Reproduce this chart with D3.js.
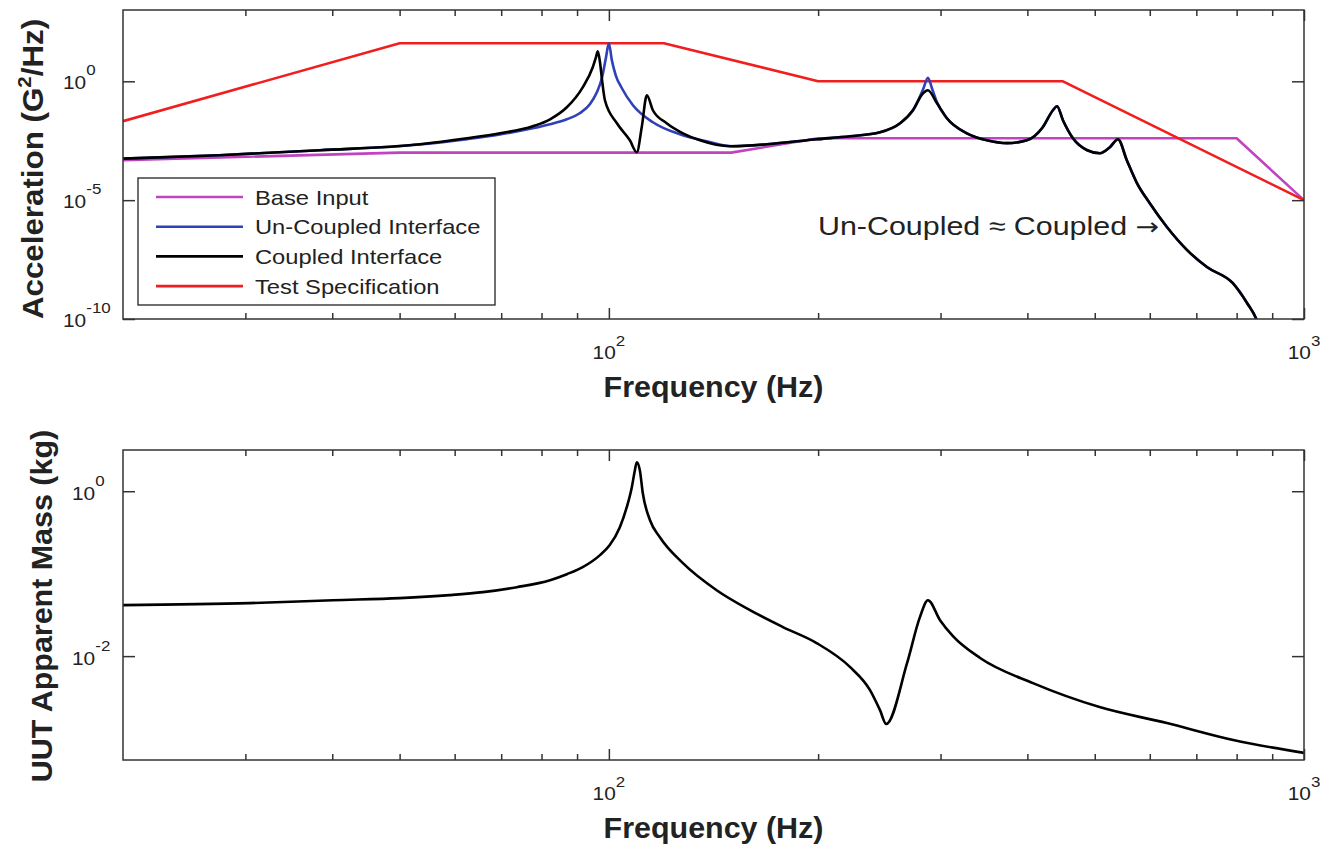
<!DOCTYPE html>
<html>
<head>
<meta charset="utf-8">
<script src="https://cdn.jsdelivr.net/npm/d3@7"></script>
<style>
  body { margin: 0; background: #fff; }
  text { font-family: "Liberation Sans", Arial, sans-serif; fill: #222; }
</style>
</head>
<body>
<svg id="chart" width="1338" height="851"></svg>
<script>
// ---- data (frequency in Hz) ----
var baseFreq = [20, 50, 150, 200, 800, 1000];
var baseVal  = [4.8e-4, 1e-3, 1e-3, 4e-3, 4e-3, 1e-5];

var specFreq = [20, 50, 120, 200, 450, 1000];
var specVal  = [0.021, 40, 40, 1, 1, 1e-5];

var coupledFreq = [20, 27.5, 38.4, 53.5, 62.5, 69.7, 77.7, 82.3, 87.0, 91.7, 94.8, 95.8, 96.4, 97.1, 97.7, 98.7, 102.7, 107.2, 109.7, 111.5, 113.4, 115.7, 121.1, 127.8, 135.2, 149.3, 168.8, 199.1, 222.3, 245.5, 262.4, 273.8, 283.1, 287.7, 296.5, 306.4, 327.3, 349.8, 374, 399.3, 420.9, 435.3, 441.3, 450, 465.2, 487.7, 508.6, 525.7, 540, 556, 575, 600, 635, 679, 725, 790, 828, 855, 870];
var coupledVal  = [5.6e-4, 7.8e-4, 1.26e-3, 2.25e-3, 4.0e-3, 6.5e-3, 0.0128, 0.0253, 0.081, 0.56, 3.9, 10.2, 18.2, 6.3, 1.34, 0.159, 0.0172, 3.3e-3, 1.04e-3, 0.0117, 0.258, 0.0605, 0.0172, 6.5e-3, 3.3e-3, 1.86e-3, 2.25e-3, 3.66e-3, 4.9e-3, 7.2e-3, 0.0172, 0.0605, 0.313, 0.419, 0.119, 0.0279, 6.5e-3, 3.3e-3, 2.5e-3, 3.3e-3, 0.0117, 0.0605, 0.089, 0.023, 4.0e-3, 1.26e-3, 9.4e-4, 1.69e-3, 3.66e-3, 4.8e-4, 5.2e-5, 7.4e-6, 7.4e-7, 7.9e-8, 1.53e-8, 3.2e-9, 4.7e-10, 9.1e-11, 2e-11];

var uncoupledFreq = [20, 27.5, 38.4, 53.5, 62.5, 69.7, 77.7, 82.3, 87.0, 90.8, 93.9, 96.1, 97.7, 99.0, 100, 101.0, 102.3, 104.4, 108.3, 115.7, 126.5, 138.3, 150.7, 168.8, 199.1, 222.3, 245.5, 262.4, 273.8, 283.1, 287.7, 292, 296.5, 306.4, 327.3, 349.8, 374, 399.3, 420.9, 435.3, 441.3, 450, 465.2, 487.7, 508.6, 525.7, 540, 556, 575, 600, 635, 679, 725, 790, 828, 855, 870];
var uncoupledVal  = [5.6e-4, 7.8e-4, 1.26e-3, 2.2e-3, 3.7e-3, 5.8e-3, 0.0105, 0.0156, 0.0253, 0.0452, 0.108, 0.345, 1.34, 9.25, 39.5, 7.6, 1.79, 0.51, 0.098, 0.019, 5.9e-3, 3.0e-3, 1.86e-3, 2.25e-3, 3.66e-3, 4.9e-3, 7.2e-3, 0.0172, 0.0605, 0.45, 1.4, 0.45, 0.13, 0.0279, 6.5e-3, 3.3e-3, 2.5e-3, 3.3e-3, 0.0117, 0.0605, 0.089, 0.023, 4.0e-3, 1.26e-3, 9.4e-4, 1.69e-3, 3.66e-3, 4.8e-4, 5.2e-5, 7.4e-6, 7.4e-7, 7.9e-8, 1.53e-8, 3.2e-9, 4.7e-10, 9.1e-11, 2e-11];

var massFreq = [20, 30.4, 40.1, 50, 59, 65.9, 73.7, 82.3, 87.0, 91.7, 97.1, 100.3, 103.7, 106.1, 107.9, 109.0, 109.7, 110.8, 111.9, 114.6, 118.4, 127.8, 142.9, 159.6, 178, 199, 222.2, 237.5, 245.5, 250.6, 268.5, 280.2, 287.7, 299.5, 312.6, 342, 407.5, 508, 635, 791, 1000];
var massVal  = [0.0415, 0.0439, 0.0477, 0.0505, 0.0549, 0.0597, 0.0686, 0.0834, 0.0986, 0.12, 0.168, 0.222, 0.366, 0.64, 1.12, 1.80, 2.25, 1.80, 0.946, 0.445, 0.277, 0.134, 0.063, 0.0361, 0.0225, 0.0144, 7.4e-3, 3.87e-3, 2.21e-3, 1.5e-3, 8.2e-3, 0.0297, 0.0477, 0.0273, 0.0175, 9.5e-3, 4.7e-3, 2.41e-3, 1.54e-3, 9.6e-4, 6.7e-4];

var xMajorTicks = [100, 1000];
var xMinorTicks = [30, 40, 50, 60, 70, 80, 90, 200, 300, 400, 500, 600, 700, 800, 900];
var xTickExp = ["2", "3"];
var accelTicks = [1, 1e-5, 1e-10];
var accelTickExp = ["0", "-5", "-10"];
var massTicks = [1, 1e-2];
var massTickExp = ["0", "-2"];

var legendNames = ["Base Input", "Un-Coupled Interface", "Coupled Interface", "Test Specification"];
var legendColors = ["#c043c0", "#3040b8", "#000000", "#f01e1e"];

// ---- layout ----
var svg = d3.select("#chart");
var left = 123, right = 1304;
var top1 = 10, bot1 = 319, top2 = 450, bot2 = 760;
var SX = 1.13;   // the source text is a bit wider than Liberation Sans

var x1 = d3.scaleLog().domain([20, 1000]).range([left, right]);
var x2 = d3.scaleLog().domain([20, 1000]).range([left, right]);
var yAcc = d3.scaleLog().domain([1e-10, 1e3]).range([bot1, top1]);
var yMass = d3.scaleLog().domain([Math.pow(10, -3.26), Math.pow(10, 0.5)]).range([bot2, top2]);

function stretchText(px, py, sx, rot) {
	return svg.append("g").attr("transform", "translate(" + px + "," + py + ")" + (rot ? " rotate(" + rot + ")" : "") + " scale(" + sx + ",1)").append("text");
}

function power(px, py, exp, anchor, expDy) {
	var t = stretchText(px, py, SX).attr("text-anchor", anchor).style("font-size", "18.5px");
	t.append("tspan").text("10");
	t.append("tspan").attr("dy", expDy).style("font-size", "15px").text(exp);
}

function frame(x, y, yt, yb, yTicks) {
	var g = svg.append("g").attr("color", "#333").style("stroke-width", "1.5px");
	g.append("g").attr("transform", "translate(0," + yb + ")")
		.call(d3.axisBottom(x).tickValues(xMinorTicks).tickSizeInner(-6).tickSizeOuter(0).tickFormat(""));
	g.append("g").attr("transform", "translate(0," + yb + ")")
		.call(d3.axisBottom(x).tickValues(xMajorTicks).tickSizeInner(-11).tickSizeOuter(0).tickFormat(""));
	g.append("g").attr("transform", "translate(0," + yt + ")")
		.call(d3.axisTop(x).tickValues(xMinorTicks).tickSizeInner(-6).tickSizeOuter(0).tickFormat(""));
	g.append("g").attr("transform", "translate(0," + yt + ")")
		.call(d3.axisTop(x).tickValues(xMajorTicks).tickSizeInner(-11).tickSizeOuter(0).tickFormat(""));
	g.append("g").attr("transform", "translate(" + left + ",0)")
		.call(d3.axisLeft(y).tickValues(yTicks).tickSizeInner(-12).tickSizeOuter(0).tickFormat(""));
	g.append("g").attr("transform", "translate(" + right + ",0)")
		.call(d3.axisRight(y).tickValues(yTicks).tickSizeInner(-12).tickSizeOuter(0).tickFormat(""));
	g.selectAll(".domain").remove();
	g.selectAll(".tick line").attr("stroke-width", 1.5);
	g.append("rect").attr("x", left).attr("y", yt).attr("width", right - left).attr("height", yb - yt)
		.attr("fill", "none").attr("stroke", "#333").attr("stroke-width", 1.5);
}

function pathOf(x, y, fr, vals, curve) {
	return d3.line().x(function(d) { return x(d[0]); }).y(function(d) { return y(d[1]); })
		.curve(curve || d3.curveLinear)(d3.zip(fr, vals));
}

svg.append("clipPath").attr("id", "clipTop").append("rect")
	.attr("x", left).attr("y", top1).attr("width", right - left).attr("height", bot1 - top1);

// ---- top panel ----
var lines = svg.append("g").attr("clip-path", "url(#clipTop)").attr("fill", "none")
	.attr("stroke-width", 2.6).attr("stroke-linejoin", "round");
lines.append("path").attr("stroke", legendColors[0]).attr("d", pathOf(x1, yAcc, baseFreq, baseVal));
lines.append("path").attr("stroke", legendColors[3]).attr("d", pathOf(x1, yAcc, specFreq, specVal));
lines.append("path").attr("stroke", legendColors[1]).attr("d", pathOf(x1, yAcc, uncoupledFreq, uncoupledVal, d3.curveMonotoneX));
lines.append("path").attr("stroke", legendColors[2]).attr("d", pathOf(x1, yAcc, coupledFreq, coupledVal, d3.curveMonotoneX));

frame(x1, yAcc, top1, bot1, accelTicks);

accelTicks.forEach(function(v, i) { power(63, yAcc(v) + 8, accelTickExp[i], "start", -14); });
xMajorTicks.forEach(function(v, i) { power(x1(v), bot1 + 40, xTickExp[i], "middle", -13); });

stretchText((left + right) / 2, 397, 1.05).attr("text-anchor", "middle")
	.style("font-size", "29px").style("font-weight", "bold").text("Frequency (Hz)");
var yt1 = stretchText(43, 169, 1.08, -90).attr("text-anchor", "middle")
	.style("font-size", "29px").style("font-weight", "bold");
yt1.append("tspan").text("Acceleration (G");
yt1.append("tspan").attr("dy", -12).style("font-size", "19px").text("2");
yt1.append("tspan").attr("dy", 12).text("/Hz)");

// legend
var lg = svg.append("g");
lg.append("rect").attr("x", 138).attr("y", 178).attr("width", 357).attr("height", 127)
	.attr("fill", "#fff").attr("stroke", "#222").attr("stroke-width", 1.3);
legendNames.forEach(function(name, i) {
	var ly = 197 + i * 29.7;
	lg.append("line").attr("x1", 156).attr("x2", 243).attr("y1", ly).attr("y2", ly)
		.attr("stroke", legendColors[i]).attr("stroke-width", 2.6);
	stretchText(255, ly + 7.5, SX).style("font-size", "21px").text(name);
});

var note = stretchText(818, 235, 1.17).style("font-size", "26px");
note.append("tspan").text("Un-Coupled \u2248 Coupled ");
note.append("tspan").style("font-family", "'DejaVu Sans'").style("font-size", "24px").text("\u2192");

// ---- bottom panel ----
svg.append("path").attr("fill", "none").attr("stroke", "#000").attr("stroke-width", 2.6)
	.attr("stroke-linejoin", "round")
	.attr("d", pathOf(x2, yMass, massFreq, massVal, d3.curveMonotoneX));

frame(x2, yMass, top2, bot2, massTicks);

massTicks.forEach(function(v, i) { power(72, yMass(v) + 8.5, massTickExp[i], "start", -14); });
xMajorTicks.forEach(function(v, i) { power(x2(v), bot2 + 40, xTickExp[i], "middle", -13); });

stretchText((left + right) / 2, 838, 1.05).attr("text-anchor", "middle")
	.style("font-size", "29px").style("font-weight", "bold").text("Frequency (Hz)");
stretchText(52, 606, 1.05, -90).attr("text-anchor", "middle")
	.style("font-size", "29px").style("font-weight", "bold").text("UUT Apparent Mass (kg)");
</script>
</body>
</html>
